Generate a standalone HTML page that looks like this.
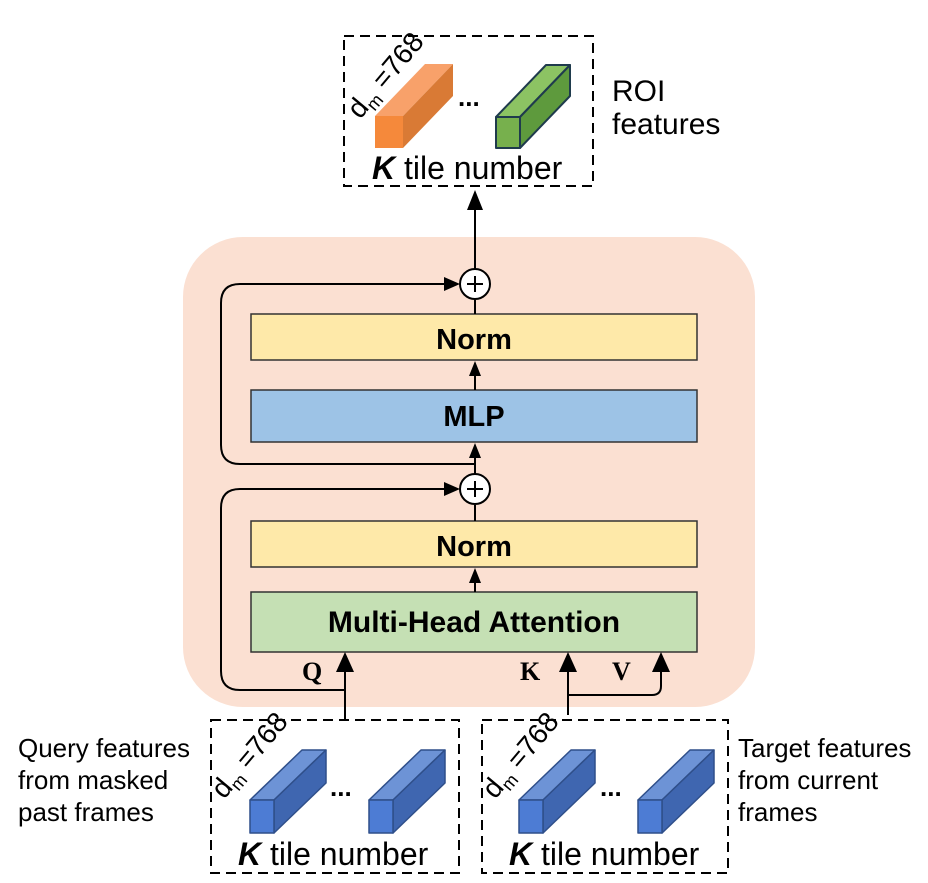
<!DOCTYPE html>
<html><head><meta charset="utf-8"><style>body{margin:0;background:#fff}svg{display:block}</style></head><body>
<svg width="928" height="883" viewBox="0 0 928 883" xmlns="http://www.w3.org/2000/svg" font-family="Liberation Sans, sans-serif">
<rect x="183" y="237" width="572" height="470" rx="60" fill="#fbe0d2"/>
<rect x="251" y="314" width="446" height="46" fill="#fee9a9" stroke="#333" stroke-width="1.5"/>
<text x="474" y="349" text-anchor="middle" font-size="29" font-weight="bold">Norm</text>
<rect x="251" y="390" width="446" height="52" fill="#9dc3e6" stroke="#333" stroke-width="1.5"/>
<text x="474" y="426" text-anchor="middle" font-size="29" font-weight="bold">MLP</text>
<rect x="251" y="521" width="446" height="46" fill="#fee9a9" stroke="#333" stroke-width="1.5"/>
<text x="474" y="556" text-anchor="middle" font-size="29" font-weight="bold">Norm</text>
<rect x="251" y="592" width="446" height="60" fill="#c5e0b4" stroke="#333" stroke-width="1.5"/>
<text x="474" y="632" text-anchor="middle" font-size="30" font-weight="bold">Multi-Head Attention</text>
<g stroke="#000" stroke-width="2" fill="none">
<circle cx="475" cy="284" r="15" fill="#fff"/><path d="M467,284H483M475,276V292"/>
<circle cx="475" cy="489" r="15" fill="#fff"/><path d="M467,489H483M475,481V497"/>
<line x1="475" y1="269" x2="475" y2="200"/>
<line x1="475" y1="314" x2="475" y2="300"/>
<line x1="475" y1="390" x2="475" y2="372"/>
<line x1="475" y1="474" x2="475" y2="454"/>
<line x1="475" y1="521" x2="475" y2="505"/>
<line x1="475" y1="592" x2="475" y2="579"/>
<path d="M475,464 H240 Q221,464 221,445 V303 Q221,284 240,284 H446"/>
<path d="M345,690 H240 Q221,690 221,671 V508 Q221,489 240,489 H446"/>
<line x1="345" y1="720" x2="345" y2="664"/>
<line x1="568" y1="715" x2="568" y2="664"/>
<path d="M568,695 H652 Q661,695 661,686 V664"/>
<g stroke-dasharray="10,6" stroke-width="2"><rect x="344" y="36" width="249" height="150"/><rect x="211" y="720" width="248" height="153"/><rect x="482" y="720" width="246" height="153"/></g>
</g>
<g fill="#000">
<path d="M467,210 L475,190 L483,210Z"/>
<path d="M469,376 L475,361 L481,376Z"/>
<path d="M469,458 L475,443 L481,458Z"/>
<path d="M469,583 L475,568 L481,583Z"/>
<path d="M444,277 L460,284 L444,291Z"/>
<path d="M444,482 L460,489 L444,496Z"/>
<path d="M336,672 L345,652 L354,672Z"/>
<path d="M559,672 L568,652 L577,672Z"/>
<path d="M652,672 L661,652 L670,672Z"/>
</g>
<g stroke-linejoin="round">
<path d="M375,116 L425,64 L453,64 L403,116Z" fill="#f8a16a"/><path d="M403,116 L453,64 L453,96 L403,148Z" fill="#d97a35"/><rect x="375" y="116" width="28" height="32" fill="#f5893b"/>
<g stroke="#1f3b4d" stroke-width="2"><path d="M496,117 L546,65 L570,65 L520,117Z" fill="#8cc363"/><path d="M520,117 L570,65 L570,96 L520,148Z" fill="#5e9a3d"/><rect x="496" y="117" width="24" height="31" fill="#77b04d"/></g>
<g stroke="#2f4f8a" stroke-width="1.5">
<g id="bc"><path d="M250,800 L302,750 L326,750 L274,800Z" fill="#6d93d6"/><path d="M274,800 L326,750 L326,783 L274,833Z" fill="#3f66b0"/><rect x="250" y="800" width="24" height="33" fill="#4d7cd4"/></g>
<use href="#bc" x="119"/><use href="#bc" x="269"/><use href="#bc" x="388"/></g>
</g>
<g font-size="28"><text x="360" y="120" transform="rotate(-50 360 120)"><tspan>d</tspan><tspan font-size="18" dy="6">m</tspan><tspan dy="-6"> =768</tspan></text>
<text x="224" y="800" transform="rotate(-50 224 800)"><tspan>d</tspan><tspan font-size="18" dy="6">m</tspan><tspan dy="-6"> =768</tspan></text>
<text x="495" y="800" transform="rotate(-50 495 800)"><tspan>d</tspan><tspan font-size="18" dy="6">m</tspan><tspan dy="-6"> =768</tspan></text></g>
<g font-size="26" font-weight="bold"><text x="458" y="106">...</text><text x="330" y="796">...</text><text x="600" y="796">...</text></g>
<g font-size="32"><text x="372" y="179"><tspan font-weight="bold" font-style="italic">K</tspan> tile number</text>
<text x="238" y="865"><tspan font-weight="bold" font-style="italic">K</tspan> tile number</text>
<text x="509" y="865"><tspan font-weight="bold" font-style="italic">K</tspan> tile number</text></g>
<g font-size="30"><text x="612" y="101">ROI</text><text x="612" y="134">features</text></g>
<g font-size="26"><text x="18" y="757">Query features</text><text x="18" y="789">from masked</text><text x="18" y="821">past frames</text>
<text x="738" y="757">Target features</text><text x="738" y="789">from current</text><text x="738" y="821">frames</text></g>
<g font-family="Liberation Serif, serif" font-weight="bold" font-size="26"><text x="302" y="680">Q</text><text x="520" y="680">K</text><text x="612" y="680">V</text></g>
</svg>
</body></html>
